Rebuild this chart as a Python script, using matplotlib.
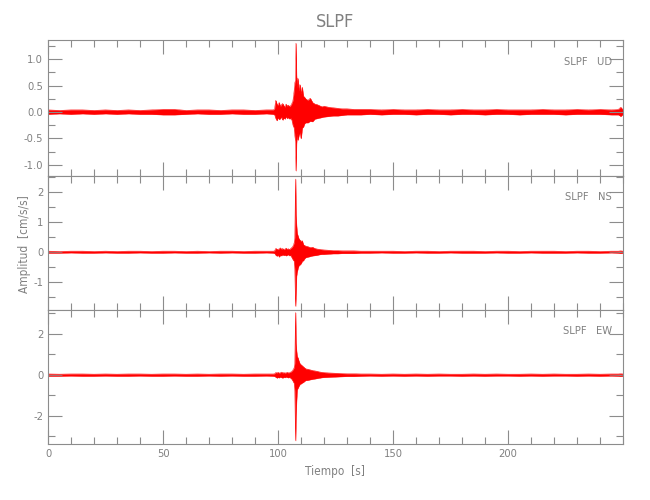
import matplotlib
matplotlib.use('Agg')
import matplotlib.pyplot as plt
from matplotlib.ticker import MultipleLocator, FormatStrFormatter

# Fuente estrecha y gris, parecida a la de IDL
plt.rcParams['font.family'] = ['DejaVu Sans']
plt.rcParams['font.stretch'] = 'condensed'
plt.rcParams['font.weight'] = 'light'
GRIS_TEXTO = '#808080'
GRIS_EJES = '#8c8c8c'
ROJO = '#ff0000'

estacion = 'SLPF'
componentes = ['UD', 'NS', 'EW']
etiquetas_x = [0, 50, 100, 150, 200]

# Nodos de tiempo (s) donde se leyo la envolvente de cada traza
tiempo = [0, 5, 10, 15, 20, 25, 30, 35, 40, 45, 50, 55, 60, 65, 70, 75, 80, 85, 90, 95, 98,
          98.5, 99, 99.5, 100, 100.5, 101, 101.5, 102, 102.5, 103, 103.5, 104, 104.5, 105, 105.5, 106, 106.5,
          107, 107.3, 107.6, 107.8, 108, 108.3, 108.6, 109, 109.5, 110, 110.5, 111, 111.5, 112,
          113, 114, 115, 116, 117, 118, 119, 120,
          122, 124, 126, 128, 130,
          133, 136,
          140, 145, 150, 155, 160, 165, 170, 175, 180, 185, 190, 195, 200, 205, 210, 215, 220, 225, 230, 235, 240, 245,
          248, 249, 250]

# UD: maximos y minimos de la traza (cm/s/s)
ud_max = [0.04, 0.03, 0.04, 0.04, 0.03, 0.04, 0.03, 0.04, 0.03, 0.04, 0.05, 0.05, 0.03, 0.04, 0.04, 0.03, 0.04, 0.04, 0.03, 0.04, 0.04,
          0.06, 0.22, 0.15, 0.12, 0.18, 0.10, 0.14, 0.16, 0.12, 0.09, 0.15, 0.11, 0.13, 0.10, 0.12, 0.16, 0.22,
          0.40, 0.55, 0.60, 1.30, 0.70, 0.45, 0.64, 0.40, 0.52, 0.35, 0.47, 0.30, 0.28, 0.25,
          0.22, 0.26, 0.18, 0.15, 0.14, 0.12, 0.10, 0.11,
          0.09, 0.08, 0.07, 0.06, 0.06,
          0.05, 0.05,
          0.05, 0.04, 0.05, 0.04, 0.04, 0.05, 0.04, 0.04, 0.05, 0.04, 0.04, 0.05, 0.04, 0.04, 0.04, 0.05, 0.04, 0.04, 0.05, 0.04, 0.05, 0.04,
          0.05, 0.09, 0.04]
ud_min = [-0.04, -0.03, -0.04, -0.03, -0.04, -0.03, -0.04, -0.03, -0.04, -0.04, -0.05, -0.05, -0.04, -0.03, -0.04, -0.04, -0.03, -0.04, -0.04, -0.03, -0.04,
          -0.05, -0.12, -0.16, -0.10, -0.14, -0.12, -0.09, -0.15, -0.11, -0.13, -0.08, -0.12, -0.10, -0.13, -0.11, -0.15, -0.25,
          -0.30, -0.45, -0.55, -1.11, -0.60, -0.40, -0.53, -0.45, -0.38, -0.50, -0.30, -0.28, -0.22, -0.20,
          -0.20, -0.17, -0.18, -0.13, -0.12, -0.11, -0.10, -0.09,
          -0.08, -0.07, -0.07, -0.06, -0.05,
          -0.05, -0.05,
          -0.04, -0.05, -0.04, -0.04, -0.05, -0.04, -0.04, -0.05, -0.04, -0.04, -0.05, -0.04, -0.04, -0.05, -0.04, -0.04, -0.04, -0.05, -0.04, -0.04, -0.04, -0.05,
          -0.05, -0.08, -0.04]

# NS
ns_max = [0.03, 0.02, 0.03, 0.03, 0.02, 0.03, 0.02, 0.03, 0.03, 0.02, 0.03, 0.03, 0.02, 0.03, 0.02, 0.03, 0.03, 0.02, 0.03, 0.03, 0.03,
          0.04, 0.12, 0.10, 0.08, 0.11, 0.14, 0.09, 0.12, 0.08, 0.10, 0.13, 0.09, 0.11, 0.08, 0.12, 0.15, 0.20,
          0.30, 0.50, 2.43, 1.23, 0.90, 0.62, 0.55, 0.45, 0.40, 0.35, 0.38, 0.25, 0.22, 0.20,
          0.18, 0.15, 0.16, 0.12, 0.10, 0.09, 0.08, 0.07,
          0.06, 0.05, 0.05, 0.04, 0.04,
          0.04, 0.03,
          0.03, 0.03, 0.03, 0.02, 0.03, 0.03, 0.02, 0.03, 0.03, 0.03, 0.02, 0.03, 0.03, 0.02, 0.03, 0.03, 0.03, 0.02, 0.03, 0.03, 0.02, 0.03,
          0.03, 0.04, 0.03]
ns_min = [-0.03, -0.03, -0.02, -0.03, -0.03, -0.02, -0.03, -0.03, -0.02, -0.03, -0.03, -0.02, -0.03, -0.03, -0.02, -0.03, -0.02, -0.03, -0.03, -0.02, -0.03,
          -0.04, -0.10, -0.13, -0.09, -0.16, -0.10, -0.12, -0.08, -0.11, -0.09, -0.12, -0.10, -0.08, -0.12, -0.10, -0.18, -0.25,
          -0.30, -0.60, -1.80, -1.38, -0.80, -0.65, -0.55, -0.45, -0.42, -0.38, -0.30, -0.28, -0.22, -0.18,
          -0.16, -0.14, -0.12, -0.11, -0.10, -0.08, -0.07, -0.07,
          -0.06, -0.05, -0.05, -0.04, -0.04,
          -0.04, -0.03,
          -0.03, -0.02, -0.03, -0.03, -0.02, -0.03, -0.03, -0.02, -0.03, -0.03, -0.03, -0.02, -0.03, -0.03, -0.02, -0.03, -0.03, -0.03, -0.02, -0.03, -0.03, -0.02,
          -0.03, -0.04, -0.03]

# EW
ew_max = [0.05, 0.04, 0.05, 0.05, 0.04, 0.05, 0.04, 0.05, 0.05, 0.04, 0.05, 0.05, 0.04, 0.05, 0.04, 0.05, 0.05, 0.04, 0.05, 0.05, 0.05,
          0.06, 0.12, 0.10, 0.13, 0.09, 0.11, 0.14, 0.10, 0.12, 0.09, 0.11, 0.13, 0.10, 0.12, 0.14, 0.18, 0.25,
          0.35, 0.60, 3.05, 1.55, 1.20, 0.90, 0.85, 0.70, 0.55, 0.50, 0.45, 0.40, 0.35, 0.30,
          0.28, 0.25, 0.22, 0.20, 0.18, 0.15, 0.13, 0.12,
          0.10, 0.09, 0.08, 0.07, 0.06,
          0.06, 0.05,
          0.05, 0.04, 0.05, 0.04, 0.05, 0.04, 0.05, 0.04, 0.04, 0.05, 0.04, 0.05, 0.04, 0.04, 0.05, 0.04, 0.05, 0.04, 0.04, 0.05, 0.04, 0.05,
          0.05, 0.06, 0.05]
ew_min = [-0.05, -0.05, -0.04, -0.05, -0.05, -0.04, -0.05, -0.05, -0.04, -0.05, -0.05, -0.04, -0.05, -0.05, -0.04, -0.05, -0.04, -0.05, -0.05, -0.04, -0.05,
          -0.06, -0.10, -0.14, -0.11, -0.13, -0.09, -0.12, -0.14, -0.10, -0.12, -0.09, -0.11, -0.13, -0.10, -0.15, -0.20, -0.30,
          -0.40, -0.80, -3.20, -2.00, -1.30, -0.70, -0.65, -0.55, -0.45, -0.42, -0.38, -0.35, -0.30, -0.26,
          -0.25, -0.22, -0.20, -0.18, -0.16, -0.14, -0.12, -0.11,
          -0.10, -0.09, -0.08, -0.07, -0.06,
          -0.06, -0.05,
          -0.04, -0.05, -0.04, -0.05, -0.04, -0.05, -0.04, -0.04, -0.05, -0.04, -0.05, -0.04, -0.04, -0.05, -0.04, -0.05, -0.04, -0.04, -0.05, -0.04, -0.05, -0.04,
          -0.05, -0.06, -0.05]

maximos = [ud_max, ns_max, ew_max]
minimos = [ud_min, ns_min, ew_min]

# Rangos y pasos de los ejes Y de cada panel
limites_y = [(-1.21, 1.36), (-1.93, 2.53), (-3.37, 3.17)]
paso_mayor = [0.5, 1.0, 2.0]
paso_menor = [0.25, 0.5, 1.0]
formato_y = ['%.1f', '%g', '%g']

fig = plt.figure(figsize=(6.5, 5), dpi=100)

# Posiciones de los paneles en pixeles (arriba, abajo)
izq, der = 48, 623
bordes = [(40, 176), (176, 310), (310, 444)]

for i, comp in enumerate(componentes):
    arriba, abajo = bordes[i]
    ax = fig.add_axes([izq / 650, 1 - abajo / 500, (der - izq) / 650, (abajo - arriba) / 500])
    ax.fill_between(tiempo, minimos[i], maximos[i], color=ROJO, linewidth=0.3)
    ax.plot(tiempo, maximos[i], color=ROJO, linewidth=0.3)
    ax.plot(tiempo, minimos[i], color=ROJO, linewidth=0.3)
    ax.set_xlim(0, 250)
    ax.set_ylim(*limites_y[i])

    ax.set_xticks(etiquetas_x)
    ax.xaxis.set_minor_locator(MultipleLocator(10))
    ax.yaxis.set_major_locator(MultipleLocator(paso_mayor[i]))
    ax.yaxis.set_minor_locator(MultipleLocator(paso_menor[i]))
    ax.yaxis.set_major_formatter(FormatStrFormatter(formato_y[i]))

    ax.tick_params(which='both', direction='in', top=True, right=True,
                   colors=GRIS_EJES, labelcolor=GRIS_TEXTO, labelsize=8, width=0.8)
    ax.tick_params(which='major', length=10)
    ax.tick_params(which='minor', length=5)
    for lado in ax.spines.values():
        lado.set_color(GRIS_EJES)
        lado.set_linewidth(0.8)
    if i < 2:
        ax.tick_params(labelbottom=False)

    ax.text(0.981, 0.84, estacion + '   ' + comp, transform=ax.transAxes,
            ha='right', va='center', fontsize=8, color=GRIS_TEXTO)

fig.text(335 / 650, 1 - 22 / 500, estacion, ha='center', va='center', fontsize=13, color=GRIS_TEXTO)
fig.text(25 / 650, 1 - 244 / 500, 'Amplitud  [cm/s/s]', rotation=90,
         ha='center', va='center', fontsize=8.5, color=GRIS_TEXTO)
fig.text(335 / 650, 1 - 471 / 500, 'Tiempo  [s]', ha='center', va='center', fontsize=8.5, color=GRIS_TEXTO)

fig.savefig('out.png', dpi=100)
